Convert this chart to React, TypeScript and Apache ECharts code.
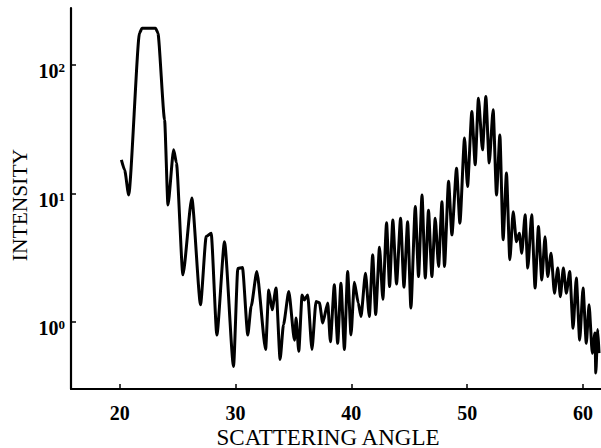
import { useEffect, useRef } from "react";
import * as echarts from "echarts";

const angle = [
  20.15, 20.43, 20.78, 21.72, 21.93, 23.1, 23.3, 23.88, 24.17, 24.66, 24.9, 25.46,
  26.23, 26.98, 27.47, 27.9, 28.39, 29.05, 29.83, 30.2, 30.6, 31.06, 31.35, 31.84,
  32.6, 32.87, 33.16, 33.5, 33.85, 34.14, 34.6, 35.09, 35.23, 35.46, 35.75, 35.95,
  36.23, 36.6, 36.95, 37.24, 37.53, 37.96, 38.19, 38.53, 38.82, 39.1, 39.4, 39.68,
  39.97, 40.26, 40.6, 40.83, 41.22, 41.55, 41.84, 42.1, 42.43, 42.72, 43.04, 43.3,
  43.58, 43.9, 44.25, 44.54, 44.86, 45.14, 45.52, 45.8, 46.1, 46.38, 46.66, 46.95,
  47.24, 47.53, 47.82, 48.04, 48.39, 48.68, 49.08, 49.37, 49.77, 50.03, 50.4, 50.69,
  50.97, 51.32, 51.61, 51.9, 52.24, 52.53, 52.82, 53.1, 53.39, 53.68, 53.97, 54.25,
  54.5, 54.71, 55.0, 55.23, 55.57, 55.86, 56.15, 56.44, 56.72, 56.95, 57.24, 57.53,
  57.82, 58.04, 58.3, 58.56, 58.85, 59.14, 59.42, 59.71, 60.0, 60.28, 60.52, 60.8,
  61.03, 61.1, 61.27, 61.38,
];

const intensity = [
  18.2, 15.2, 9.7, 177, 193, 193, 177, 37.3, 8.1, 21.8, 17.3, 2.32,
  9.2, 1.36, 4.61, 4.9, 0.79, 4.2, 0.45, 2.6, 2.65, 0.79, 1.32, 2.46,
  0.61, 1.77, 1.24, 1.83, 0.51, 0.95, 1.72, 0.72, 1.07, 0.59, 1.62, 1.48,
  1.62, 0.61, 1.44, 1.41, 0.98, 1.4, 0.7, 1.94, 0.68, 2.0, 0.61, 2.46,
  0.79, 2.03, 1.4, 1.1, 2.39, 1.1, 3.32, 1.14, 3.8, 1.5, 5.9, 1.88,
  6.2, 1.97, 6.4, 1.86, 6.0, 1.28, 7.9, 2.25, 9.7, 2.19, 7.4, 2.25,
  6.4, 2.7, 8.6, 2.7, 12.4, 4.75, 15.7, 5.86, 26.9, 11.3, 43.3, 16.7,
  55, 21.8, 56.7, 17.2, 44.7, 9.7, 28.5, 4.35, 14.4, 3.04, 7.2, 4.2,
  4.9, 3.42, 6.8, 2.62, 6.8, 1.83, 5.52, 2.12, 4.6, 2.25, 3.42, 1.67,
  2.62, 1.57, 2.62, 1.67, 2.46, 0.89, 2.19, 0.72, 1.83, 0.68, 1.36, 0.57,
  0.82, 0.4, 0.87, 0.57,
];

const xTicks = [20, 30, 40, 50, 60];
const yTicks = [1, 10, 100];
const xTitle = "SCATTERING ANGLE";
const yTitle = "INTENSITY";

const FONT = "'Liberation Serif', 'DejaVu Serif', serif";

export default function App() {
  const ref = useRef<HTMLDivElement>(null);

  useEffect(() => {
    const chart = echarts.init(ref.current!, null, { renderer: "svg" });
    const data = angle.map((a, i) => [a, intensity[i]]);
    chart.setOption({
      animation: false,
      backgroundColor: "#fff",
      grid: { left: 71, right: 0, top: 8, bottom: 59, containLabel: false },
      xAxis: {
        type: "value",
        min: 15.8,
        max: 61.55,
        splitLine: { show: false },
        axisLine: { lineStyle: { color: "#000", width: 2.2 } },
        axisTick: {
          inside: true,
          length: 5,
          customValues: xTicks,
          lineStyle: { color: "#000", width: 1.5 },
        },
        axisLabel: {
          customValues: xTicks,
          color: "#000",
          fontFamily: FONT,
          fontSize: 20,
          fontWeight: "bold",
          margin: 14,
        },
      },
      yAxis: {
        type: "log",
        logBase: 10,
        min: 0.3,
        max: 277,
        splitLine: { show: false },
        axisLine: { lineStyle: { color: "#000", width: 2.2 } },
        axisTick: {
          inside: true,
          length: 5,
          customValues: yTicks,
          lineStyle: { color: "#000", width: 1.5 },
        },
        axisLabel: {
          customValues: yTicks,
          margin: 6,
          padding: [13, 0, 0, 0],
          formatter: (v: number) => `{b|10}{s|${Math.round(Math.log10(v))}}`,
          rich: {
            b: {
              fontFamily: FONT,
              fontSize: 20,
              fontWeight: "bold",
              lineHeight: 20,
              color: "#000",
              verticalAlign: "bottom",
              padding: [4, 0, 0, 0],
            },
            s: {
              fontFamily: FONT,
              fontSize: 13,
              fontWeight: "bold",
              lineHeight: 13,
              color: "#000",
              verticalAlign: "top",
            },
          },
        },
      },
      graphic: [
        {
          type: "text",
          x: 20,
          y: 205,
          rotation: Math.PI / 2,
          style: {
            text: yTitle,
            font: `21.5px ${FONT}`,
            fill: "#000",
            textAlign: "center",
            textVerticalAlign: "middle",
          },
        },
        {
          type: "text",
          x: 328,
          y: 437,
          style: {
            text: xTitle,
            font: `23px ${FONT}`,
            fill: "#000",
            textAlign: "center",
            textVerticalAlign: "middle",
          },
        },
      ],
      series: [
        {
          type: "line",
          data,
          symbol: "none",
          showSymbol: false,
          smooth: 0.2,
          smoothMonotone: "x",
          lineStyle: { color: "#000", width: 3, join: "round" },
        },
      ],
    });
    return () => chart.dispose();
  }, []);

  return (
    <div
      ref={ref}
      style={{ position: "fixed", left: 0, top: 0, width: 601, height: 448, background: "#fff" }}
    />
  );
}
